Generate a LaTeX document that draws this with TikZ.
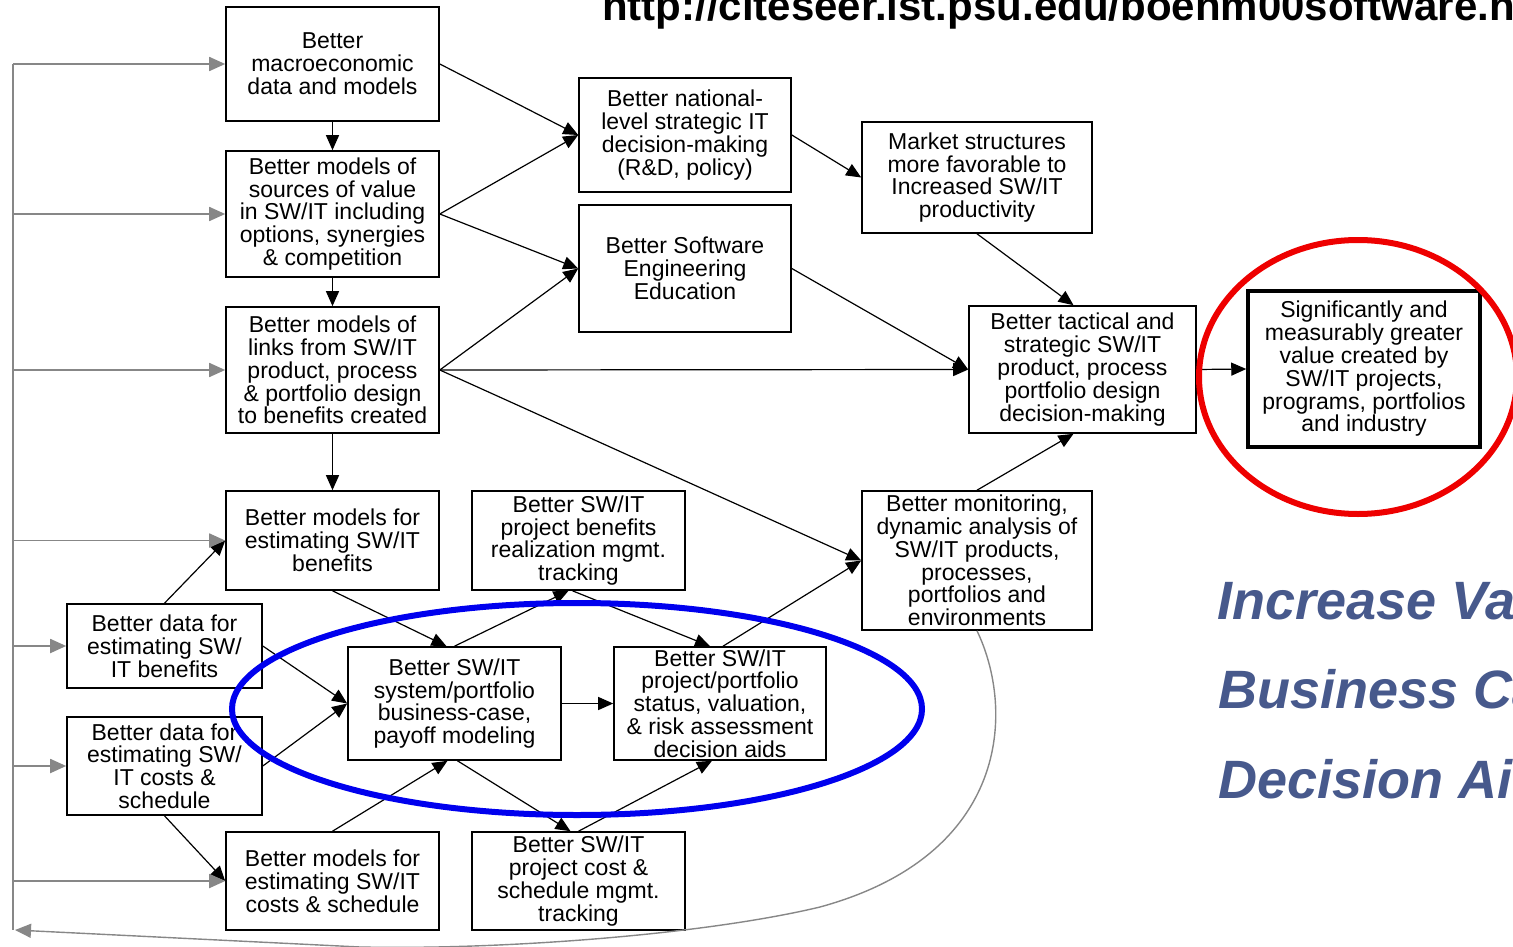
\documentclass[tikz,border=0pt]{standalone}
\usepackage{fontspec}
\setmainfont{Liberation Sans}
\usetikzlibrary{arrows.meta}
\definecolor{fbgray}{RGB}{135,135,135}
\definecolor{myblue}{RGB}{0,0,238}
\definecolor{myred}{RGB}{238,0,0}
\definecolor{labelblue}{RGB}{71,89,140}
\begin{document}
\begin{tikzpicture}[x=1pt,y=-1pt,
  box/.style={draw=black, line width=1.6pt, fill=white, inner sep=0pt, align=center,
    font=\fontsize{23}{22.8}\selectfont},
  bigbox/.style={box, line width=3.5pt},
  ar/.style={draw=black, line width=1.2pt, -{Triangle[length=15pt,width=13pt]}},
  fb/.style={draw=fbgray, line width=1.8pt, -{Triangle[length=16pt,width=14pt]}},
  fbline/.style={draw=fbgray, line width=1.8pt},
  sidelabel/.style={anchor=base west, inner sep=0pt, text=labelblue,
    font=\fontsize{54}{54}\selectfont\bfseries\itshape}
]
\useasboundingbox (0,0) rectangle (1513,947);
\clip (0,0) rectangle (1513,947);

% ---- nodes ----
\node[box, minimum width=213pt, minimum height=114pt] (macro) at (332.5,64)
  {Better\\macroeconomic\\data and models};
\node[box, minimum width=213pt, minimum height=126pt] (sources) at (332.5,214)
  {Better models of\\sources of value\\in SW/IT including\\options, synergies\\\& competition};
\node[box, minimum width=213pt, minimum height=126pt] (links) at (332.5,370)
  {Better models of\\links from SW/IT\\product, process\\\& portfolio design\\to benefits created};
\node[box, minimum width=213pt, minimum height=99pt] (estben) at (332.5,540.5)
  {Better models for\\estimating SW/IT\\benefits};
\node[box, minimum width=195pt, minimum height=84pt] (databen) at (164.5,646)
  {Better data for\\estimating SW/\\IT benefits};
\node[box, minimum width=195pt, minimum height=98pt] (datacost) at (164.5,766)
  {Better data for\\estimating SW/\\IT costs \&\\schedule};
\node[box, minimum width=213pt, minimum height=98pt] (estcost) at (332.5,881)
  {Better models for\\estimating SW/IT\\costs \& schedule};
\node[box, minimum width=212pt, minimum height=114pt] (natl) at (685,135)
  {Better national-\\level strategic IT\\decision-making\\(R\&D, policy)};
\node[box, minimum width=212pt, minimum height=127pt] (edu) at (685,268.5)
  {Better Software\\Engineering\\Education};
\node[box, minimum width=213pt, minimum height=99pt] (benreal) at (578.5,540.5)
  {Better SW/IT\\project benefits\\realization mgmt.\\tracking};
\node[box, minimum width=213pt, minimum height=113pt] (bizcase) at (454.5,703.5)
  {Better SW/IT\\system/portfolio\\business-case,\\payoff modeling};
\node[box, minimum width=212pt, minimum height=113pt] (status) at (720,703.5)
  {Better SW/IT\\project/portfolio\\status, valuation,\\\& risk assessment\\decision aids};
\node[box, minimum width=213pt, minimum height=98pt] (costtrack) at (578.5,881)
  {Better SW/IT\\project cost \&\\schedule mgmt.\\tracking};
\node[box, minimum width=230pt, minimum height=111pt] (market) at (977,177.5)
  {Market structures\\more favorable to\\Increased SW/IT\\productivity};
\node[box, minimum width=227pt, minimum height=127pt] (tactical) at (1082.5,369.5)
  {Better tactical and\\strategic SW/IT\\product, process\\portfolio design\\decision-making};
\node[box, minimum width=230pt, minimum height=139pt] (monitor) at (977,560.5)
  {Better monitoring,\\dynamic analysis of\\SW/IT products,\\processes,\\portfolios and\\environments};
\node[bigbox, minimum width=232pt, minimum height=156pt] (value) at (1364,369)
  {Significantly and\\measurably greater\\value created by\\SW/IT projects,\\programs, portfolios\\and industry};

% ---- black connectors ----
\draw[ar] (macro.south) -- (sources.north);
\draw[ar] (sources.south) -- (links.north);
\draw[ar] (links.south) -- (estben.north);
\draw[ar] (macro.east) -- (natl.west);
\draw[ar] (sources.east) -- (natl.west);
\draw[ar] (sources.east) -- (edu.west);
\draw[ar] (links.east) -- (edu.west);
\draw[ar] (links.east) -- (tactical.west);
\draw[ar] (links.east) -- (monitor.west);
\draw[ar] (natl.east) -- (market.west);
\draw[ar] (edu.east) -- (tactical.west);
\draw[ar] (market.south) -- ([xshift=-9pt]tactical.north);
\draw[ar] (monitor.north) -- ([xshift=-9pt]tactical.south);
\draw[ar] (tactical.east) -- (value.west);
\draw[ar] (databen.north) -- (estben.west);
\draw[ar] (databen.east) -- (bizcase.west);
\draw[ar] (datacost.east) -- (bizcase.west);
\draw[ar] (datacost.south) -- (estcost.west);
\draw[ar] (estben.south) -- ([xshift=-8pt]bizcase.north);
\draw[ar] (bizcase.north) -- ([xshift=-10pt]benreal.south);
\draw[ar] ([xshift=-6pt]benreal.south) -- ([xshift=-10pt]status.north);
\draw[ar] ([xshift=3pt]status.north) -- (monitor.west);
\draw[ar] (bizcase.east) -- (status.west);
\draw[ar] (estcost.north) -- ([xshift=-7pt]bizcase.south);
\draw[ar] ([xshift=3pt]bizcase.south) -- ([xshift=-8pt]costtrack.north);
\draw[ar] (costtrack.north) -- ([xshift=-8pt]status.south);

% ---- gray feedback loop ----
\coordinate (fbtop) at (13,64);
\coordinate (fbbot) at (13,930);
\draw[fbline] (fbtop) -- (fbbot);
\draw[fb] (fbtop) -- (macro.west);
\draw[fb] (fbtop |- sources.west) -- (sources.west);
\draw[fb] (fbtop |- links.west) -- (links.west);
\draw[fb] (fbtop |- estben.west) -- (estben.west);
\draw[fb] (fbtop |- databen.west) -- (databen.west);
\draw[fb] (fbtop |- datacost.west) -- (datacost.west);
\draw[fb] (fbtop |- estcost.west) -- (estcost.west);
\draw[fb, line width=1.4pt] (monitor.south) .. controls (1015,710) and (1010,855) .. (820,907)
  .. controls (703,935) and (500,950) .. (360,947) -- ([xshift=2pt]fbbot);

% ---- highlight ellipses ----
\draw[myblue, line width=6pt] (577,709) ellipse [x radius=345pt, y radius=106pt];
\draw[myred, line width=6pt] (1358,377) ellipse [x radius=159pt, y radius=137pt];

% ---- texts ----
\node[anchor=base west, inner sep=0pt, font=\fontsize{42}{42}\selectfont\bfseries] (url)
  at (602,21) {http://citeseer.ist.psu.edu/boehm00software.html};
\node[sidelabel] (inc) at (1217,619) {Increase Value};
\node[sidelabel] (bus) at (1218,708) {Business Case};
\node[sidelabel] (dec) at (1218,798) {Decision Aids};
\end{tikzpicture}
\end{document}
